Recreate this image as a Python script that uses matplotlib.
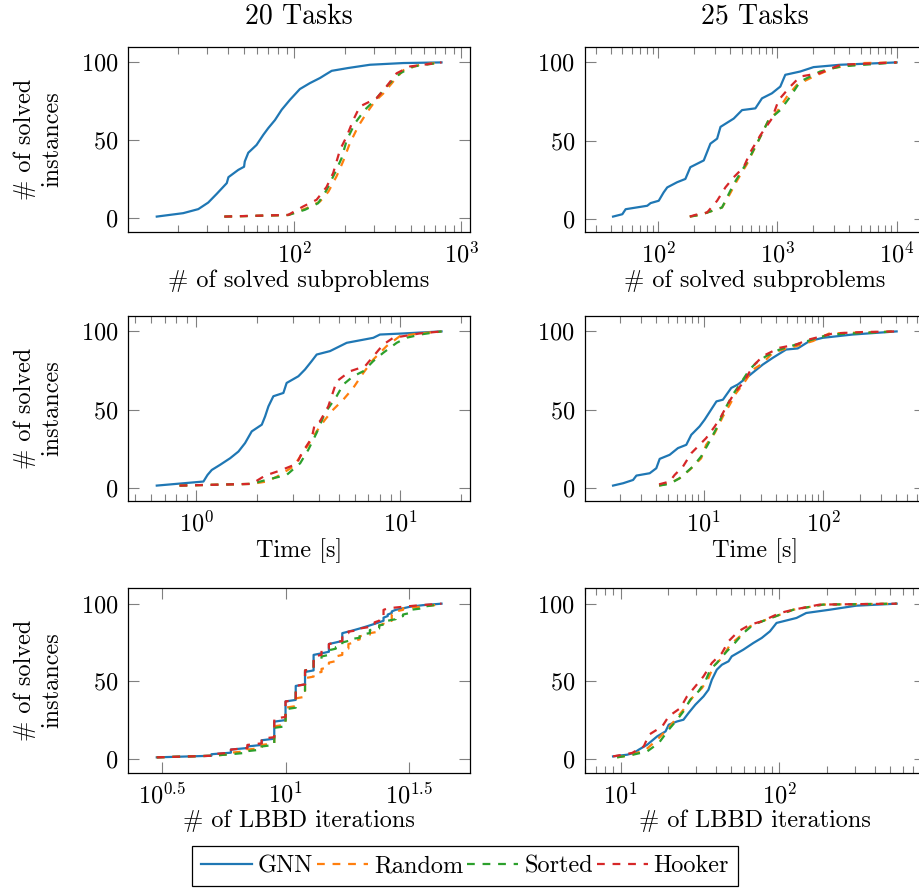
import matplotlib
matplotlib.use("Agg")
import matplotlib.pyplot as plt
from matplotlib.ticker import LogLocator, NullFormatter, NullLocator, FixedLocator, FixedFormatter
from matplotlib.lines import Line2D

plt.rcParams['font.family'] = ['cmr10', 'DejaVu Serif']
plt.rcParams['mathtext.fontset'] = 'cm'
plt.rcParams['axes.formatter.use_mathtext'] = True
plt.rcParams['axes.unicode_minus'] = False
plt.rcParams['font.size'] = 17.5
plt.rcParams['lines.scale_dashes'] = False

SERIES = ['GNN', 'Random', 'Sorted', 'Hooker']
COLORS = {'GNN': '#1f77b4', 'Random': '#ff7f0e', 'Sorted': '#2ca02c', 'Hooker': '#d62728'}

# ---------------- 20 tasks: solved subproblems ----------------
sub20_gnn_x = [15, 21.6, 26.6, 30.5, 34.3, 39.4, 40.3, 46.2, 50, 50.5, 53, 59.4, 65.2, 69.8, 76.6, 84, 94.2,
               108, 124, 142.6, 152.8, 167.5, 210, 284, 450, 762]
sub20_gnn_y = [1, 3.2, 5.8, 10, 15.6, 22.5, 26.3, 31, 33, 36.4, 42, 47, 53.5, 57.8, 63, 69.6, 76,
               82.9, 86.7, 90, 92, 94.6, 96.4, 98.5, 99.6, 100]
sub20_rand_x = [38.1, 92, 118.6, 142.6, 160, 179, 196, 215, 241.6, 271, 304, 341, 392, 450, 565, 762]
sub20_rand_y = [1, 2, 6.4, 10.7, 17, 26.8, 36.4, 48, 59, 67.5, 75, 80, 87.8, 95, 98.5, 100]
sub20_sort_x = [38.1, 92, 116, 139, 156, 175, 192, 206, 231, 265, 311, 357, 430, 516, 762]
sub20_sort_y = [1, 2, 5.4, 9.6, 18, 29, 38.5, 50, 61, 69.6, 77, 84.6, 93, 97.4, 100]
sub20_hook_x = [38.1, 92, 113, 136, 156, 171, 188, 206, 225.5, 247, 311, 357, 410, 493, 762]
sub20_hook_y = [1, 2.1, 7.5, 11.8, 20, 29, 44, 52.5, 63, 71.7, 77, 84.6, 93, 97.4, 100]

# ---------------- 25 tasks: solved subproblems ----------------
sub25_gnn_x = [41.8, 50, 53.3, 80.9, 86.3, 101, 111, 119, 144, 169, 186, 241, 274, 312, 333, 430, 505,
               653, 742, 899, 1057, 1164, 1553, 2009, 3358, 10000]
sub25_gnn_y = [1.7, 3.2, 6.4, 8.6, 10.3, 11.8, 17.1, 20.3, 23.6, 25.7, 33.2, 37.5, 48.2, 51.4, 58.9, 64.2, 69.6,
               70.7, 77.1, 80.3, 84.6, 92.1, 94.2, 97, 98.5, 100]
sub25_rand_x = [184, 226, 343, 378, 458, 556, 673, 843, 991, 1202, 1456, 2009, 2950, 5250, 10000]
sub25_rand_y = [1.7, 2.8, 7.5, 12.8, 24.6, 35.3, 48.2, 63.2, 68.5, 78.2, 85.7, 91, 96.4, 99.6, 100]
sub25_sort_x = [184, 226, 343, 430, 556, 673, 843, 1057, 1281, 1553, 2281, 3358, 10000]
sub25_sort_y = [1.7, 2.8, 7.5, 22.5, 36.4, 48.2, 63.2, 69.6, 78.2, 87.8, 94.2, 97.4, 100]
sub25_hook_x = [184, 205, 257, 312, 366, 430, 521, 593, 718, 899, 1023, 1281, 1553, 2281, 3358, 10000]
sub25_hook_y = [1.7, 2.8, 4.3, 11.8, 20.3, 26.8, 33.2, 42.8, 53.5, 64.2, 76, 84.6, 91, 93.2, 98.5, 100]

# ---------------- 20 tasks: time ----------------
time20_gnn_x = [0.641, 1.086, 1.137, 1.193, 1.311, 1.468, 1.613, 1.738, 1.874, 2.10, 2.18, 2.263, 2.393, 2.68,
                2.78, 3.175, 3.42, 3.69, 3.905, 4.54, 5.48, 7.4, 7.98, 10.4, 16]
time20_gnn_y = [1.3, 3.9, 8.1, 11.3, 14.6, 18.8, 23.1, 28.5, 36, 40.3, 45.6, 52, 58.5, 60.6,
                67, 71.3, 75.6, 81, 85.2, 87.4, 92.7, 95.9, 98, 98.7, 100]
time20_rand_x = [0.829, 1.874, 2.22, 2.49, 3.0, 3.42, 3.9, 4.29, 4.71, 5.27, 5.9, 6.61, 7.4, 8.6, 10, 12.5, 16]
time20_rand_y = [1.3, 2.4, 3.9, 7, 13.5, 24.2, 36, 43.5, 50, 56.3, 63.8, 73.4, 82, 90.6, 97, 98.7, 100]
time20_sort_x = [0.829, 1.874, 2.22, 2.78, 3.24, 3.55, 3.9, 4.29, 4.89, 5.27, 5.9, 6.61, 7.4, 8.28, 9.64,
                 10.8, 13, 16]
time20_sort_y = [1.3, 2.4, 5, 8.1, 15.6, 24.2, 35, 47.8, 58.5, 66, 71.3, 74.5, 81, 86.3, 92.7, 96, 98.3, 100]
time20_hook_x = [0.829, 1.874, 2.18, 2.58, 3.115, 3.296, 3.69, 3.83, 4.05, 4.45, 4.89, 5.69, 6.74, 7.4, 8.28,
                 9.27, 12.5, 16]
time20_hook_y = [1.3, 2.4, 7.7, 10.9, 15.2, 22, 31.7, 41.3, 42.4, 52, 68, 74.5, 77.7, 84, 91.6, 95.9, 98.7, 100]

# ---------------- 25 tasks: time ----------------
time25_gnn_x = [1.756, 2.13, 2.58, 2.75, 3.55, 4.03, 4.30, 5.21, 6.11, 7.17, 7.89, 9.26, 10.2, 12.8, 14.5,
                17.0, 19.3, 22.7, 26.6, 31.2, 37.8, 48.8, 61, 76.4, 98.7, 175, 408]
time25_gnn_y = [1.3, 2.8, 4.9, 7.7, 9.2, 12.4, 18.4, 21, 25.3, 27.4, 33.8, 39.2, 43.5, 55.2, 56.3,
                63.8, 66, 70.2, 74.5, 78.8, 83.1, 88.4, 89.1, 93.8, 95.9, 98, 100]
time25_rand_x = [4.25, 5.21, 6.31, 7.64, 9.55, 10.5, 12.4, 14.5, 16.5, 18.7, 21.3, 25.8, 30.2, 37.8, 45.8,
                 59.2, 81.5, 112, 408]
time25_rand_y = [1.3, 2.8, 6, 11.3, 18.8, 27.4, 35, 45.6, 53, 60.6, 66, 75.6, 78.8, 86.3, 88.4,
                 90.6, 93.8, 98.7, 100]
time25_sort_x = [4.25, 5.21, 6.31, 8.15, 9.55, 11.2, 12.8, 15.0, 17.5, 20, 24.2, 27.5, 33.3, 43, 59.2, 81.5,
                 112, 408]
time25_sort_y = [1.3, 2.4, 6, 13.5, 20, 29.5, 38, 50, 59.5, 66, 75.6, 79.9, 84.2, 88.4, 91.6, 94.9, 98, 100]
time25_hook_x = [4.25, 5.21, 5.73, 6.73, 7.89, 9.55, 10.5, 12.4, 14.0, 15.5, 18.1, 21.3, 25.8, 31.2, 43,
                 59.2, 76.4, 119.7, 213, 408]
time25_hook_y = [2.1, 3.9, 8.1, 13.5, 22, 28.5, 31.7, 39.2, 45.6, 52, 60.6, 67, 77.7, 84.2, 89.5,
                 91.6, 94.9, 98.7, 99.6, 100]

# ---------------- 20 tasks: LBBD iterations (cumulative counts) ----------------
iter20_gnn_v = [3, 5, 6, 7, 8, 9, 10, 11, 12, 13, 14, 15, 16, 17, 18, 19, 20, 21, 22, 23, 24, 25, 26, 27,
                28, 30, 32, 36, 43]
iter20_gnn_c = [1, 3, 6, 8, 12, 24, 37, 47, 56, 67, 68, 74, 75, 81, 82, 83, 84, 85, 86, 87, 88, 91, 93, 95,
                96, 97, 98, 99, 100]
iter20_rand_v = [3, 5, 6, 7, 8, 9, 10, 11, 12, 13, 14, 15, 16, 17, 18, 19, 20, 22, 24, 25, 27, 28, 30, 35,
                 40, 43]
iter20_rand_c = [1, 2, 4, 6, 9, 21, 33, 39, 52, 55, 58, 62, 66, 70, 74, 76, 79, 81, 86, 88, 93, 95, 97, 98,
                 99, 100]
iter20_sort_v = [3, 5, 6, 7, 8, 9, 10, 11, 12, 13, 14, 15, 16, 17, 18, 20, 22, 24, 26, 28, 30, 32, 36, 40, 43]
iter20_sort_c = [1, 2, 3, 5, 8, 20, 32, 43, 57, 63, 66, 70, 72, 75, 77, 80, 83, 86, 89, 91, 93, 96, 98, 99, 100]
iter20_hook_v = [3, 5, 6, 7, 8, 9, 10, 11, 12, 13, 14, 15, 16, 17, 18, 20, 22, 23, 24, 25, 26, 30, 35, 43]
iter20_hook_c = [1, 3, 6, 9, 13, 26, 37, 47, 57, 66, 70, 74, 75, 80, 82, 84, 86, 88, 91, 96, 97, 98, 99, 100]

# ---------------- 25 tasks: LBBD iterations ----------------
iter25_gnn_x = [8.96, 11.0, 12.1, 13.0, 14.7, 17.0, 19.2, 20.1, 22.7, 24.9, 26.8, 29.6, 33.3, 35.8, 37.6,
                40.4, 43.5, 47.9, 50.2, 59.4, 68.7, 77.5, 87.4, 96.2, 128.5, 148, 208, 306, 550]
iter25_gnn_y = [1.7, 2.8, 3.9, 6, 9.2, 14.6, 17.8, 22.1, 24.2, 25.3, 29.6, 35, 40.3, 44.6, 51,
                57.5, 60.7, 62.9, 66.1, 70.4, 74.7, 77.9, 82.2, 87.6, 90.8, 94, 96.1, 98.7, 100]
iter25_rand_x = [9.5, 11.5, 14.4, 17, 19.6, 22.1, 24.9, 28.2, 32.6, 35.8, 38.5, 43.5, 49, 56.6, 65.5, 77.5,
                 101, 122.5, 189, 550]
iter25_rand_y = [1.1, 2.4, 6, 12.4, 18.9, 25.3, 31.8, 39.3, 45.7, 52.1, 59.7, 65, 73.6, 79, 85.4, 88.6,
                 92.9, 96.1, 99.4, 100]
iter25_sort_x = [9.5, 11.5, 14.7, 17.4, 20.1, 22.7, 24.9, 27.5, 31, 34.2, 36.7, 40.4, 46.7, 51.4, 59.4, 68.7,
                 101, 122.5, 189, 550]
iter25_sort_y = [1.1, 2.4, 4.9, 10.3, 18.9, 25.3, 30.7, 38.2, 43.6, 50, 57.5, 61.8, 69.3, 73.6, 81.1, 86.5,
                 92.9, 96.1, 99.4, 100]
iter25_hook_x = [8.96, 11.8, 14.0, 15.1, 18.3, 20.1, 23.8, 26.2, 29.6, 33.3, 37.6, 43.5, 47.9, 55.3, 65.5,
                 77.5, 101, 122.5, 180, 550]
iter25_hook_y = [1.7, 3.9, 8.2, 15.7, 21, 27.5, 32.8, 40.3, 46.8, 53.2, 61.8, 68.2, 75.8, 82.2, 86.5,
                 88.6, 94, 96.1, 99.4, 100]

TITLES = ['20 Tasks', '25 Tasks']
XLABELS = ['# of solved subproblems', 'Time [s]', '# of LBBD iterations']
YLABEL = '# of solved\ninstances'
YTICKS = [0, 50, 100]


def steps(vals, cums):
    xs, ys = [], []
    prev = 0
    for v, c in zip(vals, cums):
        xs += [v, v]
        ys += [prev + 1, c]
        prev = c
    return xs, ys


panel_data = {
    (0, 0): {'GNN': (sub20_gnn_x, sub20_gnn_y), 'Random': (sub20_rand_x, sub20_rand_y),
             'Sorted': (sub20_sort_x, sub20_sort_y), 'Hooker': (sub20_hook_x, sub20_hook_y)},
    (0, 1): {'GNN': (sub25_gnn_x, sub25_gnn_y), 'Random': (sub25_rand_x, sub25_rand_y),
             'Sorted': (sub25_sort_x, sub25_sort_y), 'Hooker': (sub25_hook_x, sub25_hook_y)},
    (1, 0): {'GNN': (time20_gnn_x, time20_gnn_y), 'Random': (time20_rand_x, time20_rand_y),
             'Sorted': (time20_sort_x, time20_sort_y), 'Hooker': (time20_hook_x, time20_hook_y)},
    (1, 1): {'GNN': (time25_gnn_x, time25_gnn_y), 'Random': (time25_rand_x, time25_rand_y),
             'Sorted': (time25_sort_x, time25_sort_y), 'Hooker': (time25_hook_x, time25_hook_y)},
    (2, 0): {'GNN': steps(iter20_gnn_v, iter20_gnn_c), 'Random': steps(iter20_rand_v, iter20_rand_c),
             'Sorted': steps(iter20_sort_v, iter20_sort_c), 'Hooker': steps(iter20_hook_v, iter20_hook_c)},
    (2, 1): {'GNN': (iter25_gnn_x, iter25_gnn_y), 'Random': (iter25_rand_x, iter25_rand_y),
             'Sorted': (iter25_sort_x, iter25_sort_y), 'Hooker': (iter25_hook_x, iter25_hook_y)},
}

W, H = 920, 888
fig = plt.figure(figsize=(W / 100, H / 100), dpi=100)

col_x = [(128.3, 470.0), (584.7, 925.0)]
row_y = [(47.0, 232.0), (316.0, 501.0), (588.3, 772.7)]

LW = 1.6
DASH = (0, (5.6, 5.6))

for (r, c), series in panel_data.items():
    x0, x1 = col_x[c]
    y0, y1 = row_y[r]
    ax = fig.add_axes([x0 / W, 1 - y1 / H, (x1 - x0) / W, (y1 - y0) / H])
    ax.set_xscale('log')
    for name in SERIES:
        xs, ys = series[name]
        ls = '-' if name == 'GNN' else DASH
        ax.plot(xs, ys, color=COLORS[name], lw=LW, linestyle=ls, label=name)
    ax.margins(x=0.1, y=0.1)
    ax.set_yticks(YTICKS)
    if (r, c) == (2, 0):
        ax.xaxis.set_major_locator(FixedLocator([10 ** 0.5, 10, 10 ** 1.5]))
        ax.xaxis.set_major_formatter(FixedFormatter([r'$10^{0.5}$', r'$10^{1}$', r'$10^{1.5}$']))
        ax.xaxis.set_minor_locator(NullLocator())
    else:
        ax.xaxis.set_major_locator(LogLocator(base=10, numticks=20))
        ax.xaxis.set_minor_locator(LogLocator(base=10, subs=range(2, 10), numticks=50))
        ax.xaxis.set_minor_formatter(NullFormatter())
    ax.tick_params(which='both', direction='in', top=True, right=True, color='0.5', width=0.8,
                   labelsize=17.5, pad=7)
    ax.tick_params(which='major', length=8)
    ax.tick_params(which='minor', length=5)
    for sp in ax.spines.values():
        sp.set_linewidth(0.9)
    ax.set_xlabel(XLABELS[r], fontsize=17.5)
    ax.xaxis.set_label_coords(0.5, -0.2)
    if c == 0:
        ax.set_ylabel(YLABEL, fontsize=17.5, multialignment='center', linespacing=1.3)
        ax.yaxis.set_label_coords(-0.19, 0.5)
    if r == 0:
        ax.set_title(TITLES[c], fontsize=20, pad=17)

handles = [Line2D([], [], color=COLORS[n], lw=LW, linestyle='-' if n == 'GNN' else DASH) for n in SERIES]
leg = fig.legend(handles, SERIES, loc='center', bbox_to_anchor=(465 / W, 1 - 866 / H), ncol=4,
                 frameon=True, fancybox=False, edgecolor='black', framealpha=1, fontsize=17.5,
                 handlelength=2.1, handletextpad=0.25, columnspacing=0.15, borderpad=0.35,
                 borderaxespad=0)
leg.get_frame().set_linewidth(0.9)

fig.savefig('out.png', dpi=100)
